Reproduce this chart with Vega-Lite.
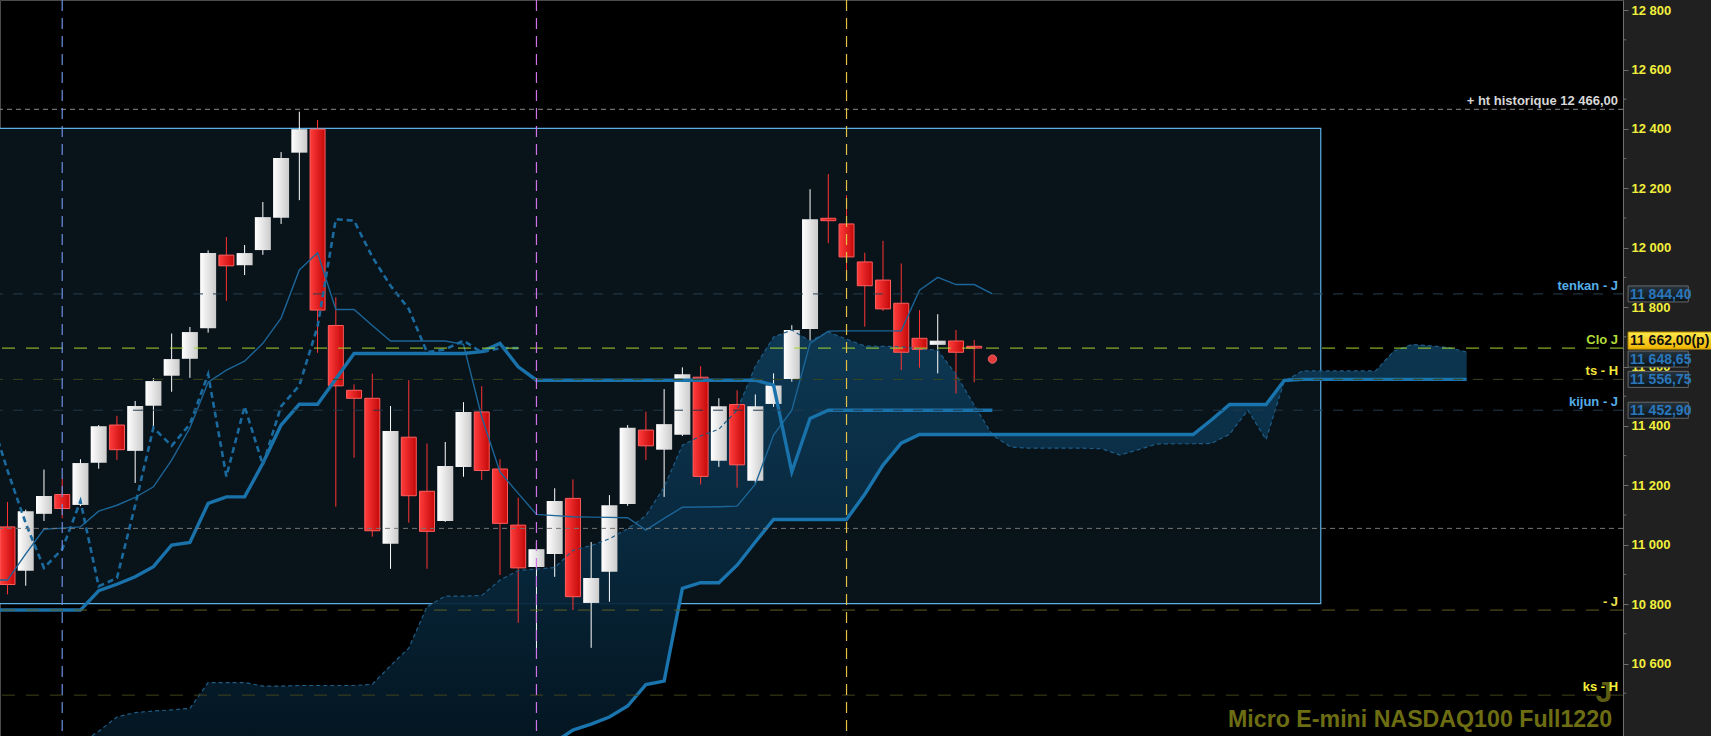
{
  "$schema": "https://vega.github.io/schema/vega-lite/v6.json",
  "width": 1623,
  "height": 736,
  "autosize": {"type": "none"},
  "padding": {"left": 0, "top": 0, "right": 88, "bottom": 0},
  "background": "#202020",
  "config": {
    "view": {"fill": "#000000", "stroke": "#4a4a4a", "strokeWidth": 1},
    "locale": {"number": {"decimal": ",", "thousands": " ", "grouping": [3], "currency": ["", ""]}},
    "scale": {"continuousPadding": 0},
    "text": {"font": "Liberation Sans"}
  },
  "datasets": {
    "candles": [
      {"i": 0, "open": 11060, "high": 11144, "low": 10833, "close": 10866},
      {"i": 1, "open": 10912, "high": 11118, "low": 10862, "close": 11113},
      {"i": 2, "open": 11104, "high": 11253, "low": 11080, "close": 11164},
      {"i": 3, "open": 11169, "high": 11223, "low": 11089, "close": 11122},
      {"i": 4, "open": 11134, "high": 11288, "low": 11130, "close": 11275},
      {"i": 5, "open": 11276, "high": 11403, "low": 11256, "close": 11399},
      {"i": 6, "open": 11403, "high": 11434, "low": 11285, "close": 11320},
      {"i": 7, "open": 11316, "high": 11484, "low": 11208, "close": 11467},
      {"i": 8, "open": 11468, "high": 11561, "low": 11392, "close": 11551},
      {"i": 9, "open": 11569, "high": 11711, "low": 11515, "close": 11625},
      {"i": 10, "open": 11626, "high": 11733, "low": 11562, "close": 11716},
      {"i": 11, "open": 11729, "high": 11991, "low": 11714, "close": 11982},
      {"i": 12, "open": 11975, "high": 12036, "low": 11821, "close": 11939},
      {"i": 13, "open": 11941, "high": 12009, "low": 11908, "close": 11982},
      {"i": 14, "open": 11992, "high": 12154, "low": 11976, "close": 12103},
      {"i": 15, "open": 12101, "high": 12322, "low": 12080, "close": 12302},
      {"i": 16, "open": 12320, "high": 12458, "low": 12160, "close": 12399},
      {"i": 17, "open": 12399, "high": 12430, "low": 11646, "close": 11790},
      {"i": 18, "open": 11738, "high": 11833, "low": 11128, "close": 11535},
      {"i": 19, "open": 11520, "high": 11540, "low": 11293, "close": 11493},
      {"i": 20, "open": 11493, "high": 11576, "low": 11027, "close": 11047},
      {"i": 21, "open": 11003, "high": 11467, "low": 10919, "close": 11383},
      {"i": 22, "open": 11362, "high": 11554, "low": 11074, "close": 11165},
      {"i": 23, "open": 11180, "high": 11341, "low": 10919, "close": 11045},
      {"i": 24, "open": 11080, "high": 11346, "low": 11077, "close": 11265},
      {"i": 25, "open": 11262, "high": 11480, "low": 11229, "close": 11447},
      {"i": 26, "open": 11447, "high": 11534, "low": 11218, "close": 11250},
      {"i": 27, "open": 11255, "high": 11288, "low": 10898, "close": 11072},
      {"i": 28, "open": 11066, "high": 11158, "low": 10737, "close": 10922},
      {"i": 29, "open": 10925, "high": 11008, "low": 10650, "close": 10985},
      {"i": 30, "open": 10969, "high": 11190, "low": 10892, "close": 11147},
      {"i": 31, "open": 11156, "high": 11220, "low": 10780, "close": 10825},
      {"i": 32, "open": 10804, "high": 11009, "low": 10653, "close": 10888},
      {"i": 33, "open": 10909, "high": 11167, "low": 10808, "close": 11133},
      {"i": 34, "open": 11137, "high": 11403, "low": 11131, "close": 11394},
      {"i": 35, "open": 11386, "high": 11448, "low": 11285, "close": 11333},
      {"i": 36, "open": 11320, "high": 11524, "low": 11161, "close": 11406},
      {"i": 37, "open": 11370, "high": 11597, "low": 11366, "close": 11574},
      {"i": 38, "open": 11564, "high": 11601, "low": 11203, "close": 11230},
      {"i": 39, "open": 11283, "high": 11493, "low": 11262, "close": 11466},
      {"i": 40, "open": 11472, "high": 11520, "low": 11192, "close": 11269},
      {"i": 41, "open": 11215, "high": 11506, "low": 11206, "close": 11466},
      {"i": 42, "open": 11474, "high": 11577, "low": 11464, "close": 11536},
      {"i": 43, "open": 11558, "high": 11739, "low": 11549, "close": 11723},
      {"i": 44, "open": 11726, "high": 12197, "low": 11687, "close": 12096},
      {"i": 45, "open": 12099, "high": 12248, "low": 12015, "close": 12091},
      {"i": 46, "open": 12080, "high": 12177, "low": 11897, "close": 11969},
      {"i": 47, "open": 11952, "high": 11983, "low": 11734, "close": 11872},
      {"i": 48, "open": 11891, "high": 12023, "low": 11787, "close": 11794},
      {"i": 49, "open": 11813, "high": 11947, "low": 11588, "close": 11648},
      {"i": 50, "open": 11695, "high": 11790, "low": 11596, "close": 11658},
      {"i": 51, "open": 11673, "high": 11776, "low": 11577, "close": 11687},
      {"i": 52, "open": 11686, "high": 11723, "low": 11509, "close": 11648},
      {"i": 53, "open": 11668, "high": 11689, "low": 11547, "close": 11662}
    ],
    "ichi": [
      {"i": -1, "tenkan": 10881, "kijun": 10780, "chikou": 11447, "spanA": null, "spanB": null},
      {"i": 0, "tenkan": 10881, "kijun": 10780, "chikou": 11250, "spanA": null, "spanB": null},
      {"i": 1, "tenkan": 10969, "kijun": 10780, "chikou": 11072, "spanA": null, "spanB": null},
      {"i": 2, "tenkan": 11052, "kijun": 10780, "chikou": 10922, "spanA": null, "spanB": null},
      {"i": 3, "tenkan": 11056, "kijun": 10780, "chikou": 10985, "spanA": null, "spanB": null},
      {"i": 4, "tenkan": 11060, "kijun": 10780, "chikou": 11147, "spanA": 10330, "spanB": 10150},
      {"i": 5, "tenkan": 11113, "kijun": 10845, "chikou": 10860, "spanA": 10372, "spanB": 10150},
      {"i": 6, "tenkan": 11133, "kijun": 10867, "chikou": 10888, "spanA": 10420, "spanB": 10150},
      {"i": 7, "tenkan": 11159, "kijun": 10892, "chikou": 11133, "spanA": 10435, "spanB": 10150},
      {"i": 8, "tenkan": 11195, "kijun": 10926, "chikou": 11394, "spanA": 10440, "spanB": 10150},
      {"i": 9, "tenkan": 11285, "kijun": 10999, "chikou": 11333, "spanA": 10444, "spanB": 10150},
      {"i": 10, "tenkan": 11393, "kijun": 11008, "chikou": 11406, "spanA": 10449, "spanB": 10150},
      {"i": 11, "tenkan": 11547, "kijun": 11139, "chikou": 11574, "spanA": 10536, "spanB": 10150},
      {"i": 12, "tenkan": 11588, "kijun": 11161, "chikou": 11230, "spanA": 10536, "spanB": 10150},
      {"i": 13, "tenkan": 11618, "kijun": 11161, "chikou": 11466, "spanA": 10536, "spanB": 10150},
      {"i": 14, "tenkan": 11678, "kijun": 11274, "chikou": 11269, "spanA": 10524, "spanB": 10150},
      {"i": 15, "tenkan": 11763, "kijun": 11403, "chikou": 11466, "spanA": 10524, "spanB": 10150},
      {"i": 16, "tenkan": 11925, "kijun": 11473, "chikou": 11536, "spanA": 10526, "spanB": 10200},
      {"i": 17, "tenkan": 11983, "kijun": 11473, "chikou": 11735, "spanA": 10526, "spanB": 10200},
      {"i": 18, "tenkan": 11792, "kijun": 11558, "chikou": 12096, "spanA": 10526, "spanB": 10200},
      {"i": 19, "tenkan": 11792, "kijun": 11644, "chikou": 12091, "spanA": 10526, "spanB": 10200},
      {"i": 20, "tenkan": 11738, "kijun": 11644, "chikou": 11969, "spanA": 10530, "spanB": 10200},
      {"i": 21, "tenkan": 11686, "kijun": 11644, "chikou": 11872, "spanA": 10593, "spanB": 10200},
      {"i": 22, "tenkan": 11686, "kijun": 11644, "chikou": 11794, "spanA": 10652, "spanB": 10200},
      {"i": 23, "tenkan": 11686, "kijun": 11644, "chikou": 11648, "spanA": 10791, "spanB": 10200},
      {"i": 24, "tenkan": 11686, "kijun": 11644, "chikou": 11658, "spanA": 10827, "spanB": 10200},
      {"i": 25, "tenkan": 11675, "kijun": 11644, "chikou": 11687, "spanA": 10827, "spanB": 10200},
      {"i": 26, "tenkan": 11430, "kijun": 11650, "chikou": 11648, "spanA": 10829, "spanB": 10250},
      {"i": 27, "tenkan": 11245, "kijun": 11678, "chikou": 11662, "spanA": 10881, "spanB": 10250},
      {"i": 28, "tenkan": 11173, "kijun": 11599, "chikou": 11662, "spanA": 10913, "spanB": 10250},
      {"i": 29, "tenkan": 11102, "kijun": 11554, "chikou": null, "spanA": 10918, "spanB": 10290},
      {"i": 30, "tenkan": 11098, "kijun": 11554, "chikou": null, "spanA": 10923, "spanB": 10335},
      {"i": 31, "tenkan": 11094, "kijun": 11554, "chikou": null, "spanA": 10981, "spanB": 10376},
      {"i": 32, "tenkan": 11093, "kijun": 11554, "chikou": null, "spanA": 10997, "spanB": 10396},
      {"i": 33, "tenkan": 11092, "kijun": 11554, "chikou": null, "spanA": 11020, "spanB": 10420},
      {"i": 34, "tenkan": 11091, "kijun": 11554, "chikou": null, "spanA": 11054, "spanB": 10457},
      {"i": 35, "tenkan": 11049, "kijun": 11554, "chikou": null, "spanA": 11098, "spanB": 10529},
      {"i": 36, "tenkan": 11089, "kijun": 11554, "chikou": null, "spanA": 11194, "spanB": 10541},
      {"i": 37, "tenkan": 11126, "kijun": 11554, "chikou": null, "spanA": 11335, "spanB": 10853},
      {"i": 38, "tenkan": 11127, "kijun": 11554, "chikou": null, "spanA": 11366, "spanB": 10872},
      {"i": 39, "tenkan": 11128, "kijun": 11554, "chikou": null, "spanA": 11389, "spanB": 10872},
      {"i": 40, "tenkan": 11130, "kijun": 11554, "chikou": null, "spanA": 11453, "spanB": 10931},
      {"i": 41, "tenkan": 11204, "kijun": 11554, "chikou": null, "spanA": 11601, "spanB": 11009},
      {"i": 42, "tenkan": 11369, "kijun": 11537, "chikou": null, "spanA": 11699, "spanB": 11085},
      {"i": 43, "tenkan": 11453, "kijun": 11245, "chikou": null, "spanA": 11723, "spanB": 11085},
      {"i": 44, "tenkan": 11678, "kijun": 11425, "chikou": null, "spanA": 11686, "spanB": 11085},
      {"i": 45, "tenkan": 11719, "kijun": 11452.9, "chikou": null, "spanA": 11716, "spanB": 11085},
      {"i": 46, "tenkan": 11720, "kijun": 11452.9, "chikou": null, "spanA": 11692, "spanB": 11085},
      {"i": 47, "tenkan": 11720, "kijun": 11452.9, "chikou": null, "spanA": 11669, "spanB": 11170},
      {"i": 48, "tenkan": 11720, "kijun": 11452.9, "chikou": null, "spanA": 11668, "spanB": 11268},
      {"i": 49, "tenkan": 11720, "kijun": 11452.9, "chikou": null, "spanA": 11666, "spanB": 11342},
      {"i": 50, "tenkan": 11857, "kijun": 11452.9, "chikou": null, "spanA": 11660, "spanB": 11371},
      {"i": 51, "tenkan": 11900, "kijun": 11452.9, "chikou": null, "spanA": 11655, "spanB": 11371},
      {"i": 52, "tenkan": 11876, "kijun": 11452.9, "chikou": null, "spanA": 11574, "spanB": 11371},
      {"i": 53, "tenkan": 11876, "kijun": 11452.9, "chikou": null, "spanA": 11470, "spanB": 11371},
      {"i": 54, "tenkan": 11844.4, "kijun": 11452.9, "chikou": null, "spanA": 11369, "spanB": 11371},
      {"i": 55, "tenkan": null, "kijun": null, "chikou": null, "spanA": 11329, "spanB": 11371},
      {"i": 56, "tenkan": null, "kijun": null, "chikou": null, "spanA": 11325, "spanB": 11371},
      {"i": 57, "tenkan": null, "kijun": null, "chikou": null, "spanA": 11325, "spanB": 11371},
      {"i": 58, "tenkan": null, "kijun": null, "chikou": null, "spanA": 11325, "spanB": 11371},
      {"i": 59, "tenkan": null, "kijun": null, "chikou": null, "spanA": 11325, "spanB": 11371},
      {"i": 60, "tenkan": null, "kijun": null, "chikou": null, "spanA": 11323, "spanB": 11371},
      {"i": 61, "tenkan": null, "kijun": null, "chikou": null, "spanA": 11302, "spanB": 11371},
      {"i": 62, "tenkan": null, "kijun": null, "chikou": null, "spanA": 11320, "spanB": 11371},
      {"i": 63, "tenkan": null, "kijun": null, "chikou": null, "spanA": 11339, "spanB": 11371},
      {"i": 64, "tenkan": null, "kijun": null, "chikou": null, "spanA": 11340, "spanB": 11371},
      {"i": 65, "tenkan": null, "kijun": null, "chikou": null, "spanA": 11340, "spanB": 11371},
      {"i": 66, "tenkan": null, "kijun": null, "chikou": null, "spanA": 11341, "spanB": 11420},
      {"i": 67, "tenkan": null, "kijun": null, "chikou": null, "spanA": 11372, "spanB": 11472},
      {"i": 68, "tenkan": null, "kijun": null, "chikou": null, "spanA": 11453, "spanB": 11472},
      {"i": 69, "tenkan": null, "kijun": null, "chikou": null, "spanA": 11354, "spanB": 11472},
      {"i": 70, "tenkan": null, "kijun": null, "chikou": null, "spanA": 11551, "spanB": 11553},
      {"i": 71, "tenkan": null, "kijun": null, "chikou": null, "spanA": 11585, "spanB": 11556.75},
      {"i": 72, "tenkan": null, "kijun": null, "chikou": null, "spanA": 11585, "spanB": 11556.75},
      {"i": 73, "tenkan": null, "kijun": null, "chikou": null, "spanA": 11585, "spanB": 11556.75},
      {"i": 74, "tenkan": null, "kijun": null, "chikou": null, "spanA": 11585, "spanB": 11556.75},
      {"i": 75, "tenkan": null, "kijun": null, "chikou": null, "spanA": 11585, "spanB": 11556.75},
      {"i": 76, "tenkan": null, "kijun": null, "chikou": null, "spanA": 11652, "spanB": 11556.75},
      {"i": 77, "tenkan": null, "kijun": null, "chikou": null, "spanA": 11674, "spanB": 11556.75},
      {"i": 78, "tenkan": null, "kijun": null, "chikou": null, "spanA": 11670, "spanB": 11556.75},
      {"i": 79, "tenkan": null, "kijun": null, "chikou": null, "spanA": 11664, "spanB": 11556.75},
      {"i": 80, "tenkan": null, "kijun": null, "chikou": null, "spanA": 11648.65, "spanB": 11556.75}
    ],
    "levels": [
      {"name": "ht", "value": 12466, "label": "+ ht historique 12 466,00"},
      {"name": "tenkan", "value": 11844.4, "label": "tenkan - J"},
      {"name": "clo", "value": 11662, "label": "Clo J"},
      {"name": "ts", "value": 11556.75, "label": "ts - H"},
      {"name": "kijun", "value": 11452.9, "label": "kijun - J"},
      {"name": "bas", "value": 11055, "label": ""},
      {"name": "j", "value": 10780, "label": "- J"},
      {"name": "ks", "value": 10493.6, "label": "ks - H"}
    ],
    "tags": [
      {"name": "tenkan", "value": 11844.4, "text": "11 844,40"},
      {"name": "clo", "value": 11662, "text": "11 662,00(p)"},
      {"name": "spana", "value": 11648.65, "text": "11 648,65"},
      {"name": "ts", "value": 11556.75, "text": "11 556,75"},
      {"name": "kijun", "value": 11452.9, "text": "11 452,90"}
    ],
    "zones": [{"from": -1, "to": 72, "low": 10802, "high": 12402}],
    "signal": [{"i": 54, "v": 11625}],
    "minorTicks": [
      {"v": 10500}, {"v": 10700}, {"v": 10900}, {"v": 11100}, {"v": 11300}, {"v": 11500},
      {"v": 11700}, {"v": 11900}, {"v": 12100}, {"v": 12300}, {"v": 12500}, {"v": 12700}
    ]
  },
  "layer": [
    {
      "data": {"name": "minorTicks"},
      "mark": {"type": "rule", "stroke": "#6e6e6e", "strokeWidth": 1},
      "encoding": {
        "x": {"datum": 88.57, "type": "quantitative", "scale": {"domain": [-0.411, 88.57], "nice": false, "zero": false, "padding": 0}, "axis": null},
        "x2": {"datum": 88.75},
        "y": {"field": "v", "type": "quantitative", "scale": {"domain": [10356, 12834], "nice": false, "zero": false},
          "axis": {
            "orient": "right", "title": null, "grid": false,
            "values": [10600, 10800, 11000, 11200, 11400, 11600, 11800, 12000, 12200, 12400, 12600, 12800],
            "format": ",.0f",
            "domainColor": "#6e6e6e", "tickColor": "#6e6e6e", "tickSize": 5,
            "labelColor": "#f2ef3c", "labelFont": "Liberation Sans", "labelFontSize": 13, "labelFontWeight": "bold",
            "labelPadding": 3, "labelBaseline": "middle", "labelOverlap": false, "labelFlush": false
          }
        }
      }
    },
    {
      "data": {"name": "zones"},
      "mark": {"type": "rect", "fill": "#09131a", "stroke": "#5cb0e6", "strokeWidth": 1.2},
      "encoding": {
        "x": {"field": "from", "type": "quantitative", "scale": {"domain": [-0.411, 88.57], "nice": false, "zero": false, "padding": 0}, "axis": null},
        "x2": {"field": "to"},
        "y": {"field": "low", "type": "quantitative", "scale": {"domain": [10356, 12834], "nice": false, "zero": false}},
        "y2": {"field": "high"}
      }
    },
    {
      "data": {"name": "ichi"},
      "transform": [{"filter": "datum.spanA != null"}],
      "mark": {
        "type": "area", "clip": true, "fillOpacity": 0.92,
        "fill": {"gradient": "linear", "x1": 0, "y1": 0, "x2": 0, "y2": 1,
          "stops": [{"offset": 0, "color": "#0e3b58"}, {"offset": 0.45, "color": "#082a40"}, {"offset": 1, "color": "#03121c"}]}
      },
      "encoding": {
        "x": {"field": "i", "type": "quantitative", "scale": {"domain": [-0.411, 88.57], "nice": false, "zero": false, "padding": 0}, "axis": null},
        "y": {"field": "spanA", "type": "quantitative", "scale": {"domain": [10356, 12834], "nice": false, "zero": false}},
        "y2": {"field": "spanB"}
      }
    },
    {
      "data": {"name": "candles"},
      "transform": [{"filter": "datum.close >= datum.open"}],
      "mark": {"type": "rule", "stroke": "#ffffff", "strokeWidth": 1},
      "encoding": {
        "x": {"field": "i", "type": "quantitative", "scale": {"domain": [-0.411, 88.57], "nice": false, "zero": false, "padding": 0}, "axis": null},
        "y": {"field": "low", "type": "quantitative", "scale": {"domain": [10356, 12834], "nice": false, "zero": false}},
        "y2": {"field": "high"}
      }
    },
    {
      "data": {"name": "candles"},
      "transform": [{"filter": "datum.close < datum.open"}],
      "mark": {"type": "rule", "stroke": "#ff3434", "strokeWidth": 1},
      "encoding": {
        "x": {"field": "i", "type": "quantitative", "scale": {"domain": [-0.411, 88.57], "nice": false, "zero": false, "padding": 0}, "axis": null},
        "y": {"field": "low", "type": "quantitative", "scale": {"domain": [10356, 12834], "nice": false, "zero": false}},
        "y2": {"field": "high"}
      }
    },
    {
      "data": {"name": "candles"},
      "transform": [{"filter": "datum.close >= datum.open"}],
      "mark": {
        "type": "bar", "size": 16,
        "fill": {"gradient": "linear", "x1": 0, "y1": 0, "x2": 1, "y2": 0,
          "stops": [{"offset": 0, "color": "#ffffff"}, {"offset": 1, "color": "#cbcbcb"}]}
      },
      "encoding": {
        "x": {"field": "i", "type": "quantitative", "scale": {"domain": [-0.411, 88.57], "nice": false, "zero": false, "padding": 0}, "axis": null},
        "y": {"field": "open", "type": "quantitative", "scale": {"domain": [10356, 12834], "nice": false, "zero": false}},
        "y2": {"field": "close"}
      }
    },
    {
      "data": {"name": "candles"},
      "transform": [{"filter": "datum.close < datum.open"}],
      "mark": {
        "type": "bar", "size": 15, "stroke": "#ff5e5e", "strokeWidth": 1,
        "fill": {"gradient": "linear", "x1": 0, "y1": 0, "x2": 1, "y2": 0,
          "stops": [{"offset": 0, "color": "#ff3c3c"}, {"offset": 1, "color": "#c40808"}]}
      },
      "encoding": {
        "x": {"field": "i", "type": "quantitative", "scale": {"domain": [-0.411, 88.57], "nice": false, "zero": false, "padding": 0}, "axis": null},
        "y": {"field": "open", "type": "quantitative", "scale": {"domain": [10356, 12834], "nice": false, "zero": false}},
        "y2": {"field": "close"}
      }
    },
    {
      "data": {"name": "ichi"},
      "transform": [{"filter": "datum.spanA != null"}],
      "mark": {"type": "line", "clip": true, "stroke": "#1e5c86", "strokeWidth": 1.2, "strokeDash": [4, 3]},
      "encoding": {
        "x": {"field": "i", "type": "quantitative", "scale": {"domain": [-0.411, 88.57], "nice": false, "zero": false, "padding": 0}, "axis": null},
        "y": {"field": "spanA", "type": "quantitative", "scale": {"domain": [10356, 12834], "nice": false, "zero": false}}
      }
    },
    {
      "data": {"name": "ichi"},
      "transform": [{"filter": "datum.spanB != null"}],
      "mark": {"type": "line", "clip": true, "stroke": "#1a74ad", "strokeWidth": 3.4},
      "encoding": {
        "x": {"field": "i", "type": "quantitative", "scale": {"domain": [-0.411, 88.57], "nice": false, "zero": false, "padding": 0}, "axis": null},
        "y": {"field": "spanB", "type": "quantitative", "scale": {"domain": [10356, 12834], "nice": false, "zero": false}}
      }
    },
    {
      "data": {"name": "ichi"},
      "transform": [{"filter": "datum.tenkan != null"}],
      "mark": {"type": "line", "clip": true, "stroke": "#1c6597", "strokeWidth": 1.4},
      "encoding": {
        "x": {"field": "i", "type": "quantitative", "scale": {"domain": [-0.411, 88.57], "nice": false, "zero": false, "padding": 0}, "axis": null},
        "y": {"field": "tenkan", "type": "quantitative", "scale": {"domain": [10356, 12834], "nice": false, "zero": false}}
      }
    },
    {
      "data": {"name": "ichi"},
      "transform": [{"filter": "datum.kijun != null"}],
      "mark": {"type": "line", "clip": true, "stroke": "#1a72ab", "strokeWidth": 3.4},
      "encoding": {
        "x": {"field": "i", "type": "quantitative", "scale": {"domain": [-0.411, 88.57], "nice": false, "zero": false, "padding": 0}, "axis": null},
        "y": {"field": "kijun", "type": "quantitative", "scale": {"domain": [10356, 12834], "nice": false, "zero": false}}
      }
    },
    {
      "data": {"name": "ichi"},
      "transform": [{"filter": "datum.chikou != null"}],
      "mark": {"type": "line", "clip": true, "stroke": "#1a6a9e", "strokeWidth": 2.6, "strokeDash": [6, 4]},
      "encoding": {
        "x": {"field": "i", "type": "quantitative", "scale": {"domain": [-0.411, 88.57], "nice": false, "zero": false, "padding": 0}, "axis": null},
        "y": {"field": "chikou", "type": "quantitative", "scale": {"domain": [10356, 12834], "nice": false, "zero": false}}
      }
    },
    {
      "data": {"name": "levels"},
      "mark": {"type": "rule", "strokeWidth": 1},
      "encoding": {
        "y": {"field": "value", "type": "quantitative", "scale": {"domain": [10356, 12834], "nice": false, "zero": false}},
        "stroke": {"field": "name", "type": "nominal", "legend": null,
          "scale": {"domain": ["ht", "tenkan", "clo", "ts", "kijun", "bas", "j", "ks"],
            "range": ["#8a8a8a", "#27404f", "#a6d62e", "#3b451c", "#22394a", "#767676", "#5f5f22", "#44441d"]}},
        "strokeDash": {"field": "name", "type": "nominal", "legend": null,
          "scale": {"domain": ["ht", "tenkan", "clo", "ts", "kijun", "bas", "j", "ks"],
            "range": [[5, 4], [10, 10], [13, 11], [10, 10], [10, 10], [5, 4], [13, 11], [13, 11]]}}
      }
    },
    {
      "data": {"values": [{}]},
      "mark": {"type": "rule", "stroke": "#6b8fe2", "strokeWidth": 1.2, "strokeDash": [11, 7]},
      "encoding": {"x": {"datum": 3, "type": "quantitative", "scale": {"domain": [-0.411, 88.57], "nice": false, "zero": false, "padding": 0}, "axis": null}}
    },
    {
      "data": {"values": [{}]},
      "mark": {"type": "rule", "stroke": "#d072ea", "strokeWidth": 1.2, "strokeDash": [11, 7]},
      "encoding": {"x": {"datum": 29, "type": "quantitative", "scale": {"domain": [-0.411, 88.57], "nice": false, "zero": false, "padding": 0}, "axis": null}}
    },
    {
      "data": {"values": [{}]},
      "mark": {"type": "rule", "stroke": "#e6bf45", "strokeWidth": 1.2, "strokeDash": [11, 7]},
      "encoding": {"x": {"datum": 46, "type": "quantitative", "scale": {"domain": [-0.411, 88.57], "nice": false, "zero": false, "padding": 0}, "axis": null}}
    },
    {
      "data": {"name": "signal"},
      "mark": {"type": "point", "filled": true, "fill": "#e23c3c", "stroke": "#ff7070", "strokeWidth": 0.8, "opacity": 1, "size": 70},
      "encoding": {
        "x": {"field": "i", "type": "quantitative", "scale": {"domain": [-0.411, 88.57], "nice": false, "zero": false, "padding": 0}, "axis": null},
        "y": {"field": "v", "type": "quantitative", "scale": {"domain": [10356, 12834], "nice": false, "zero": false}}
      }
    },
    {
      "data": {"values": [{}]},
      "mark": {"type": "text", "text": "J", "font": "Liberation Sans", "fontSize": 30, "fontWeight": "bold", "fill": "#5c5c12", "align": "center", "baseline": "alphabetic"},
      "encoding": {
        "x": {"datum": 87.53, "type": "quantitative", "scale": {"domain": [-0.411, 88.57], "nice": false, "zero": false, "padding": 0}, "axis": null},
        "y": {"datum": 10470, "type": "quantitative", "scale": {"domain": [10356, 12834], "nice": false, "zero": false}}
      }
    },
    {
      "data": {"values": [{}]},
      "mark": {"type": "text", "text": "Micro E-mini NASDAQ100 Full1220", "font": "Liberation Sans", "fontSize": 23.2, "fontWeight": "bold", "fill": "#6d6d13", "align": "right", "baseline": "alphabetic"},
      "encoding": {
        "x": {"datum": 87.97, "type": "quantitative", "scale": {"domain": [-0.411, 88.57], "nice": false, "zero": false, "padding": 0}, "axis": null},
        "y": {"datum": 10386, "type": "quantitative", "scale": {"domain": [10356, 12834], "nice": false, "zero": false}}
      }
    },
    {
      "data": {"name": "levels"},
      "transform": [{"filter": "datum.label != ''"}],
      "mark": {"type": "text", "font": "Liberation Sans", "fontSize": 13, "fontWeight": "bold", "align": "right", "baseline": "middle", "dy": -8},
      "encoding": {
        "x": {"datum": 88.3, "type": "quantitative", "scale": {"domain": [-0.411, 88.57], "nice": false, "zero": false, "padding": 0}, "axis": null},
        "y": {"field": "value", "type": "quantitative", "scale": {"domain": [10356, 12834], "nice": false, "zero": false}},
        "text": {"field": "label"},
        "fill": {"field": "name", "type": "nominal", "legend": null,
          "scale": {"domain": ["ht", "tenkan", "clo", "ts", "kijun", "bas", "j", "ks"],
            "range": ["#d6d6d6", "#55aee8", "#b2dc38", "#f2e63a", "#55aee8", "#808080", "#eee24a", "#f4ee3a"]}}
      }
    },
    {
      "data": {"name": "tags"},
      "transform": [{"filter": "datum.name == 'tenkan' || datum.name == 'ts' || datum.name == 'kijun'"}],
      "mark": {"type": "rect", "yOffset": -8, "y2Offset": 8, "stroke": "#686868", "strokeWidth": 1,
        "fill": {"gradient": "linear", "x1": 0, "y1": 0, "x2": 0, "y2": 1, "stops": [{"offset": 0, "color": "#26343e"}, {"offset": 1, "color": "#0b141a"}]}},
      "encoding": {
        "x": {"datum": 88.85, "type": "quantitative", "scale": {"domain": [-0.411, 88.57], "nice": false, "zero": false, "padding": 0}, "axis": null},
        "x2": {"datum": 92.15},
        "y": {"field": "value", "type": "quantitative", "scale": {"domain": [10356, 12834], "nice": false, "zero": false}},
        "y2": {"field": "value"}
      }
    },
    {
      "data": {"name": "tags"},
      "transform": [{"filter": "datum.name == 'spana'"}],
      "mark": {"type": "rect", "yOffset": -1, "y2Offset": 15, "stroke": "#686868", "strokeWidth": 1,
        "fill": {"gradient": "linear", "x1": 0, "y1": 0, "x2": 0, "y2": 1, "stops": [{"offset": 0, "color": "#26343e"}, {"offset": 1, "color": "#0b141a"}]}},
      "encoding": {
        "x": {"datum": 88.85, "type": "quantitative", "scale": {"domain": [-0.411, 88.57], "nice": false, "zero": false, "padding": 0}, "axis": null},
        "x2": {"datum": 92.15},
        "y": {"field": "value", "type": "quantitative", "scale": {"domain": [10356, 12834], "nice": false, "zero": false}},
        "y2": {"field": "value"}
      }
    },
    {
      "data": {"name": "tags"},
      "transform": [{"filter": "datum.name == 'clo'"}],
      "mark": {"type": "rect", "yOffset": -16, "y2Offset": 1, "stroke": "#c89a00", "strokeWidth": 1,
        "fill": {"gradient": "linear", "x1": 0, "y1": 0, "x2": 0, "y2": 1, "stops": [{"offset": 0, "color": "#ffe94e"}, {"offset": 1, "color": "#f0b400"}]}},
      "encoding": {
        "x": {"datum": 88.85, "type": "quantitative", "scale": {"domain": [-0.411, 88.57], "nice": false, "zero": false, "padding": 0}, "axis": null},
        "x2": {"datum": 94},
        "y": {"field": "value", "type": "quantitative", "scale": {"domain": [10356, 12834], "nice": false, "zero": false}},
        "y2": {"field": "value"}
      }
    },
    {
      "data": {"name": "tags"},
      "transform": [{"filter": "datum.name == 'tenkan' || datum.name == 'ts' || datum.name == 'kijun'"}],
      "mark": {"type": "text", "font": "Liberation Sans", "fontSize": 14, "fontWeight": "bold", "fill": "#2a76bb", "align": "left", "baseline": "middle", "dy": 1},
      "encoding": {
        "x": {"datum": 88.95, "type": "quantitative", "scale": {"domain": [-0.411, 88.57], "nice": false, "zero": false, "padding": 0}, "axis": null},
        "y": {"field": "value", "type": "quantitative", "scale": {"domain": [10356, 12834], "nice": false, "zero": false}},
        "text": {"field": "text"}
      }
    },
    {
      "data": {"name": "tags"},
      "transform": [{"filter": "datum.name == 'spana'"}],
      "mark": {"type": "text", "font": "Liberation Sans", "fontSize": 14, "fontWeight": "bold", "fill": "#2a76bb", "align": "left", "baseline": "middle", "dy": 8},
      "encoding": {
        "x": {"datum": 88.95, "type": "quantitative", "scale": {"domain": [-0.411, 88.57], "nice": false, "zero": false, "padding": 0}, "axis": null},
        "y": {"field": "value", "type": "quantitative", "scale": {"domain": [10356, 12834], "nice": false, "zero": false}},
        "text": {"field": "text"}
      }
    },
    {
      "data": {"name": "tags"},
      "transform": [{"filter": "datum.name == 'clo'"}],
      "mark": {"type": "text", "font": "Liberation Sans", "fontSize": 14, "fontWeight": "bold", "fill": "#111111", "align": "left", "baseline": "middle", "dy": -7},
      "encoding": {
        "x": {"datum": 88.95, "type": "quantitative", "scale": {"domain": [-0.411, 88.57], "nice": false, "zero": false, "padding": 0}, "axis": null},
        "y": {"field": "value", "type": "quantitative", "scale": {"domain": [10356, 12834], "nice": false, "zero": false}},
        "text": {"field": "text"}
      }
    }
  ]
}
